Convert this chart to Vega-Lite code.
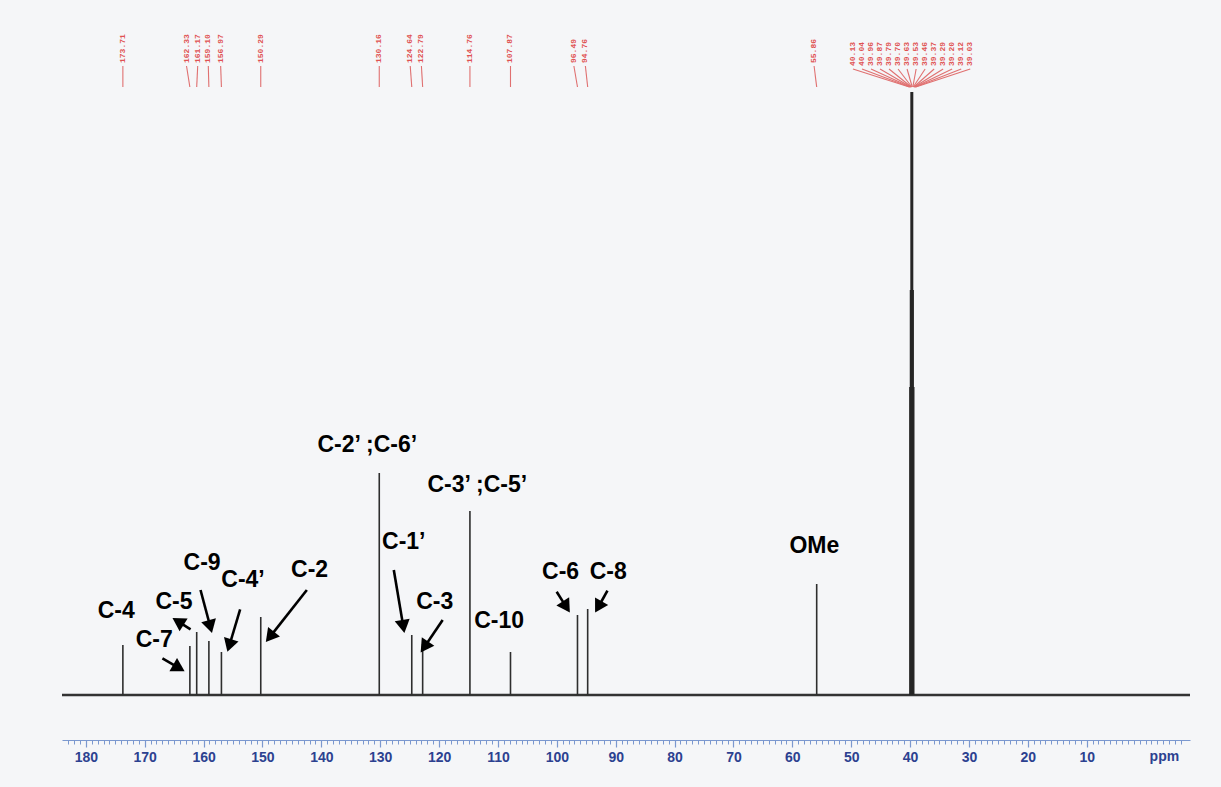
{
  "$schema": "https://vega.github.io/schema/vega-lite/v6.json",
  "width": 1128,
  "height": 740,
  "autosize": {"type": "none"},
  "padding": {"left": 62, "top": 0, "right": 31, "bottom": 47},
  "background": "#f5f6f8",
  "config": {"view": {"stroke": null}},
  "datasets": {
    "peaks": [
      {"ppm": 173.71, "h": 50}, {"ppm": 162.33, "h": 49}, {"ppm": 161.17, "h": 63},
      {"ppm": 159.10, "h": 54}, {"ppm": 156.97, "h": 43}, {"ppm": 150.29, "h": 78},
      {"ppm": 130.16, "h": 222}, {"ppm": 124.64, "h": 60}, {"ppm": 122.79, "h": 51},
      {"ppm": 114.76, "h": 184}, {"ppm": 107.87, "h": 43}, {"ppm": 96.49, "h": 80},
      {"ppm": 94.76, "h": 86}, {"ppm": 55.86, "h": 111}
    ],
    "solvent": [
      {"ppm": 40.00, "h": 308}, {"ppm": 39.90, "h": 405}, {"ppm": 39.80, "h": 603},
      {"ppm": 39.70, "h": 603}, {"ppm": 39.60, "h": 603}, {"ppm": 39.50, "h": 405},
      {"ppm": 39.40, "h": 308}
    ],
    "shifts": [
      {"shift": "173.71", "ppm": 173.71, "pos": 173.71, "lt": 629, "lb": 608},
      {"shift": "162.33", "ppm": 162.33, "pos": 162.9, "lt": 629, "lb": 608},
      {"shift": "161.17", "ppm": 161.17, "pos": 161.0, "lt": 629, "lb": 608},
      {"shift": "159.10", "ppm": 159.10, "pos": 159.2, "lt": 629, "lb": 608},
      {"shift": "156.97", "ppm": 156.97, "pos": 157.1, "lt": 629, "lb": 608},
      {"shift": "150.29", "ppm": 150.29, "pos": 150.29, "lt": 629, "lb": 608},
      {"shift": "130.16", "ppm": 130.16, "pos": 130.16, "lt": 629, "lb": 608},
      {"shift": "124.64", "ppm": 124.64, "pos": 124.9, "lt": 629, "lb": 608},
      {"shift": "122.79", "ppm": 122.79, "pos": 123.0, "lt": 629, "lb": 608},
      {"shift": "114.76", "ppm": 114.76, "pos": 114.76, "lt": 629, "lb": 608},
      {"shift": "107.87", "ppm": 107.87, "pos": 107.87, "lt": 629, "lb": 608},
      {"shift": "96.49", "ppm": 96.49, "pos": 97.1, "lt": 629, "lb": 608},
      {"shift": "94.76", "ppm": 94.76, "pos": 95.15, "lt": 629, "lb": 608},
      {"shift": "55.86", "ppm": 55.86, "pos": 56.3, "lt": 629, "lb": 608},
      {"shift": "40.13", "ppm": 40.13, "pos": 49.70, "lt": 626, "lb": 608},
      {"shift": "40.04", "ppm": 40.04, "pos": 48.16, "lt": 626, "lb": 608},
      {"shift": "39.96", "ppm": 39.96, "pos": 46.63, "lt": 626, "lb": 608},
      {"shift": "39.87", "ppm": 39.87, "pos": 45.10, "lt": 626, "lb": 608},
      {"shift": "39.79", "ppm": 39.79, "pos": 43.57, "lt": 626, "lb": 608},
      {"shift": "39.70", "ppm": 39.70, "pos": 42.04, "lt": 626, "lb": 608},
      {"shift": "39.63", "ppm": 39.63, "pos": 40.51, "lt": 626, "lb": 608},
      {"shift": "39.53", "ppm": 39.53, "pos": 38.97, "lt": 626, "lb": 608},
      {"shift": "39.46", "ppm": 39.46, "pos": 37.44, "lt": 626, "lb": 608},
      {"shift": "39.37", "ppm": 39.37, "pos": 35.91, "lt": 626, "lb": 608},
      {"shift": "39.29", "ppm": 39.29, "pos": 34.38, "lt": 626, "lb": 608},
      {"shift": "39.20", "ppm": 39.20, "pos": 32.85, "lt": 626, "lb": 608},
      {"shift": "39.12", "ppm": 39.12, "pos": 31.31, "lt": 626, "lb": 608},
      {"shift": "39.03", "ppm": 39.03, "pos": 29.78, "lt": 626, "lb": 608}
    ],
    "labels": [
      {"t": "C-4", "px": 174.83, "py": 84},
      {"t": "C-7", "px": 168.38, "py": 55},
      {"t": "C-5", "px": 165.02, "py": 93},
      {"t": "C-9", "px": 160.25, "py": 132},
      {"t": "C-4’", "px": 153.3, "py": 115},
      {"t": "C-2", "px": 142.0, "py": 125},
      {"t": "C-2’ ;C-6’", "px": 132.19, "py": 250},
      {"t": "C-3’ ;C-5’", "px": 113.5, "py": 210},
      {"t": "C-1’", "px": 126.0, "py": 153},
      {"t": "C-3", "px": 120.74, "py": 93},
      {"t": "C-10", "px": 109.8, "py": 74},
      {"t": "C-6", "px": 99.36, "py": 123},
      {"t": "C-8", "px": 91.28, "py": 123},
      {"t": "OMe", "px": 56.26, "py": 149}
    ],
    "unit": [
      {"t": "ppm", "px": -3.2, "py": -62}
    ],
    "arrows": [
      {"label": "C-7", "tx": 166.99, "ty": 36.7, "hx": 164.51, "hy": 28.2, "dir": 120},
      {"label": "C-5", "tx": 162.21, "ty": 65.7, "hx": 164.02, "hy": 72.4, "dir": 302},
      {"label": "C-9", "tx": 160.52, "ty": 105, "hx": 158.96, "hy": 70.5, "dir": 165},
      {"label": "C-4’", "tx": 153.79, "ty": 85.7, "hx": 155.52, "hy": 51.5, "dir": 197},
      {"label": "C-2", "tx": 142.46, "ty": 105, "hx": 148.5, "hy": 59.9, "dir": 218.5},
      {"label": "C-1’", "tx": 127.69, "ty": 125, "hx": 126.14, "hy": 70.6, "dir": 170.4},
      {"label": "C-3", "tx": 119.39, "ty": 75, "hx": 122.29, "hy": 49.8, "dir": 214.3},
      {"label": "C-6", "tx": 100.03, "ty": 103.3, "hx": 98.59, "hy": 89.9, "dir": 147.3},
      {"label": "C-8", "tx": 91.4, "ty": 104.3, "hx": 92.76, "hy": 90, "dir": 209.7}
    ]
  },
  "layer": [
    {
      "data": {"values": [{"v": 0}]},
      "mark": {"type": "rule", "color": "#333333", "strokeWidth": 2.6},
      "encoding": {
        "y": {"field": "v", "type": "quantitative", "scale": {"domain": [-45, 695], "nice": false, "zero": false}, "axis": null}
      }
    },
    {
      "data": {"name": "peaks"},
      "mark": {"type": "bar", "color": "#2e2e2e", "width": 1.6},
      "encoding": {
        "x": {"field": "ppm", "type": "quantitative",
          "scale": {"domain": [183.2, -6.7], "nice": false, "zero": false},
          "axis": {"orient": "bottom", "values": [180,170,160,150,140,130,120,110,100,90,80,70,60,50,40,30,20,10],
            "labelOverlap": false, "labelFlush": false, "labelBound": false,
            "tickSize": 7, "tickColor": "#7b98cf", "tickWidth": 1.2, "domain": true, "domainColor": "#7b98cf", "domainWidth": 1.2, "grid": false, "title": null,
            "labelFont": "Liberation Sans", "labelFontWeight": "bold", "labelFontSize": 14, "labelColor": "#2c4190", "labelPadding": 3}},
        "y": {"field": "h", "type": "quantitative"}
      }
    },
    {
      "data": {"name": "solvent"},
      "mark": {"type": "bar", "color": "#262626", "width": 1.8},
      "encoding": {
        "x": {"field": "ppm", "type": "quantitative",
          "scale": {"domain": [183.2, -6.7], "nice": false, "zero": false},
          "axis": {"orient": "bottom", "values": [-6,-5,-4,-3,-2,-1,0,1,2,3,4,5,6,7,8,9,11,12,13,14,15,16,17,18,19,21,22,23,24,25,26,27,28,29,31,32,33,34,35,36,37,38,39,41,42,43,44,45,46,47,48,49,51,52,53,54,55,56,57,58,59,61,62,63,64,65,66,67,68,69,71,72,73,74,75,76,77,78,79,81,82,83,84,85,86,87,88,89,91,92,93,94,95,96,97,98,99,101,102,103,104,105,106,107,108,109,111,112,113,114,115,116,117,118,119,121,122,123,124,125,126,127,128,129,131,132,133,134,135,136,137,138,139,141,142,143,144,145,146,147,148,149,151,152,153,154,155,156,157,158,159,161,162,163,164,165,166,167,168,169,171,172,173,174,175,176,177,178,179,181,182,183],
            "labels": false, "tickSize": 4, "tickColor": "#7b98cf", "tickWidth": 1, "domain": false, "grid": false, "title": null}},
        "y": {"field": "h", "type": "quantitative"}
      }
    },
    {
      "data": {"name": "shifts"},
      "mark": {"type": "rule", "color": "#e07070", "strokeWidth": 1.1},
      "encoding": {
        "x": {"field": "pos", "type": "quantitative", "axis": null},
        "x2": {"field": "ppm"},
        "y": {"field": "lt", "type": "quantitative"},
        "y2": {"field": "lb"}
      }
    },
    {
      "data": {"name": "shifts"},
      "mark": {"type": "text", "angle": 270, "align": "left", "baseline": "middle", "font": "Liberation Mono", "fontWeight": "bold", "fontSize": 8, "color": "#e05252", "dx": 3},
      "encoding": {
        "x": {"field": "pos", "type": "quantitative", "axis": null},
        "y": {"field": "lt", "type": "quantitative"},
        "text": {"field": "shift", "type": "nominal"}
      }
    },
    {
      "data": {"name": "labels"},
      "mark": {"type": "text", "align": "center", "baseline": "middle", "font": "Liberation Sans", "fontWeight": "bold", "fontSize": 23, "color": "#000000"},
      "encoding": {
        "x": {"field": "px", "type": "quantitative", "axis": null},
        "y": {"field": "py", "type": "quantitative"},
        "text": {"field": "t", "type": "nominal"}
      }
    },
    {
      "data": {"name": "unit"},
      "mark": {"type": "text", "align": "center", "baseline": "middle", "font": "Liberation Sans", "fontWeight": "bold", "fontSize": 14, "color": "#2c4190"},
      "encoding": {
        "x": {"field": "px", "type": "quantitative", "axis": null},
        "y": {"field": "py", "type": "quantitative"},
        "text": {"field": "t", "type": "nominal"}
      }
    },
    {
      "data": {"name": "arrows"},
      "mark": {"type": "rule", "color": "#000000", "strokeWidth": 2.6},
      "encoding": {
        "x": {"field": "tx", "type": "quantitative", "axis": null},
        "x2": {"field": "hx"},
        "y": {"field": "ty", "type": "quantitative"},
        "y2": {"field": "hy"}
      }
    },
    {
      "data": {"name": "arrows"},
      "mark": {"type": "point", "shape": "triangle", "filled": true, "color": "#000000", "size": 230, "opacity": 1},
      "encoding": {
        "x": {"field": "hx", "type": "quantitative", "axis": null},
        "y": {"field": "hy", "type": "quantitative"},
        "angle": {"field": "dir", "type": "quantitative", "scale": {"domain": [0, 360], "range": [0, 360]}}
      }
    }
  ],
  "resolve": {"axis": {"x": "independent"}}
}
